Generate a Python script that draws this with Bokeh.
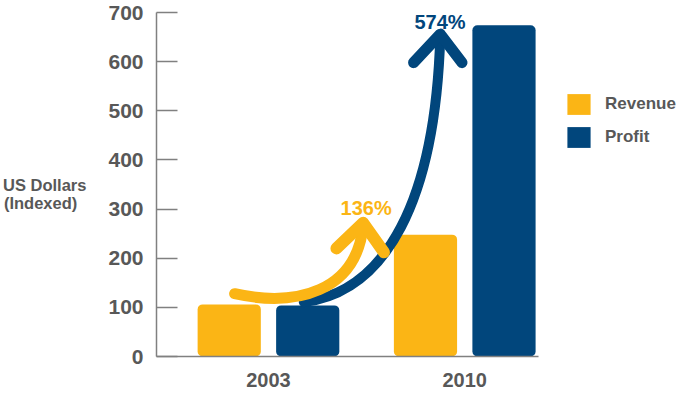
from bokeh.plotting import figure
from bokeh.models import Range1d, FixedTicker, Legend, LegendItem, ColumnDataSource
from bokeh.core.properties import value
from bokeh.embed import file_html
from bokeh.resources import INLINE

# ---- data ----
years = ["2003", "2010"]
series = ["Revenue", "Profit"]
revenue = [106, 248]
profit = [104, 674]
growth_labels = ["136%", "574%"]
y_ticks = [0, 100, 200, 300, 400, 500, 600, 700]
y_title = "\nUS Dollars\n(Indexed)\u00a0\u00a0"

# decorative growth arrows (data coordinates: x in year-index units, y in indexed USD)
rev_arrow_curve = dict(x0=-0.1725, y0=127.7, cx0=0.1448, cy0=100.0, cx1=0.4471, cy1=131.9, x1=0.4824, y1=266.0)
rev_arrow_head_x = [0.3463, 0.4824, 0.5882]
rev_arrow_head_y = [220.0, 272.0, 212.0]
prof_arrow_curve = dict(x0=0.1801, y0=110.6, cx0=0.5982, cy0=131.9, cx1=0.8501, cy1=315.7, x1=0.8753, y1=652.0)
prof_arrow_head_x = [0.7393, 0.8753, 0.9861]
prof_arrow_head_y = [598.0, 656.0, 598.0]
growth_label_x = [0.4975, 0.874]
growth_label_y = [302.0, 680.0]

YELLOW = "#FBB515"
BLUE = "#01467C"
GRAY = "#585858"
AXIS_GRAY = "#808080"
FONT = "Liberation Sans"

group_x = list(range(len(years)))
offset = 0.2
bar_w = 0.322
x_start, x_axis_end, x_end = -0.5705, 1.3741, 2.1197

rev_src = ColumnDataSource(dict(x=[g - offset for g in group_x], top=revenue))
prof_src = ColumnDataSource(dict(x=[g + offset for g in group_x], top=profit))

p = figure(width=684, height=389,
           x_range=Range1d(x_start, x_end), y_range=Range1d(0, 700),
           output_backend="svg", toolbar_location=None,
           min_border_left=150, min_border_right=0,
           min_border_top=12, min_border_bottom=30)
p.styles = {"margin-left": "0px", "margin-top": "0px"}
p.outline_line_color = None
p.xgrid.visible = False
p.ygrid.visible = False
p.background_fill_color = "white"
p.border_fill_color = "white"

r_rev = p.vbar(x="x", top="top", width=bar_w, bottom=0, source=rev_src,
               fill_color=YELLOW, line_color=None, border_radius=5)
r_prof = p.vbar(x="x", top="top", width=bar_w, bottom=0, source=prof_src,
                fill_color=BLUE, line_color=None, border_radius=5)

# arrows
p.bezier(line_color=BLUE, line_width=10, line_cap="round", **{k: [v] for k, v in prof_arrow_curve.items()})
p.line(prof_arrow_head_x, prof_arrow_head_y, line_color=BLUE, line_width=11,
       line_cap="round", line_join="round")
p.bezier(line_color=YELLOW, line_width=11, line_cap="round", **{k: [v] for k, v in rev_arrow_curve.items()})
p.line(rev_arrow_head_x, rev_arrow_head_y, line_color=YELLOW, line_width=12,
       line_cap="round", line_join="round")

p.text(x=growth_label_x, y=growth_label_y, text=growth_labels,
       text_color=[YELLOW, BLUE], text_font=value(FONT), text_font_style="bold",
       text_font_size="20px", text_align="center", text_baseline="middle")

# axes
xa = p.xaxis[0]
xa.bounds = (x_start, x_axis_end)
xa.ticker = FixedTicker(ticks=group_x)
xa.major_label_overrides = {g: y for g, y in zip(group_x, years)}
xa.major_tick_line_color = None
xa.minor_tick_line_color = None
xa.axis_line_color = AXIS_GRAY
xa.axis_line_width = 1.5
xa.major_label_text_font = FONT
xa.major_label_text_font_style = "bold"
xa.major_label_text_font_size = "20px"
xa.major_label_text_color = GRAY
xa.major_label_standoff = 10

ya = p.yaxis[0]
ya.ticker = FixedTicker(ticks=y_ticks)
ya.major_tick_in = 21
ya.major_tick_out = 0
ya.major_tick_line_color = AXIS_GRAY
ya.major_tick_line_width = 1.5
ya.minor_tick_line_color = None
ya.axis_line_color = AXIS_GRAY
ya.axis_line_width = 1.5
ya.major_label_text_font = FONT
ya.major_label_text_font_style = "bold"
ya.major_label_text_font_size = "21px"
ya.major_label_text_color = GRAY
ya.major_label_standoff = 13
ya.axis_label = y_title
ya.axis_label_orientation = "horizontal"
ya.axis_label_text_align = "left"
ya.axis_label_text_baseline = "middle"
ya.axis_label_text_line_height = 1.0
ya.axis_label_text_font = FONT
ya.axis_label_text_font_style = "bold"
ya.axis_label_text_font_size = "16.5px"
ya.axis_label_text_color = GRAY
ya.axis_label_standoff = 19

legend = Legend(items=[LegendItem(label=series[0], renderers=[r_rev]),
                       LegendItem(label=series[1], renderers=[r_prof])],
                location=(408, 206), glyph_width=29, glyph_height=26,
                label_standoff=12, spacing=7, padding=0, margin=0,
                border_line_color=None, background_fill_alpha=0,
                label_text_font=FONT, label_text_font_style="bold",
                label_text_font_size="17px", label_text_color=GRAY)
p.add_layout(legend)

open("out.html", "w").write(file_html(p, INLINE))
